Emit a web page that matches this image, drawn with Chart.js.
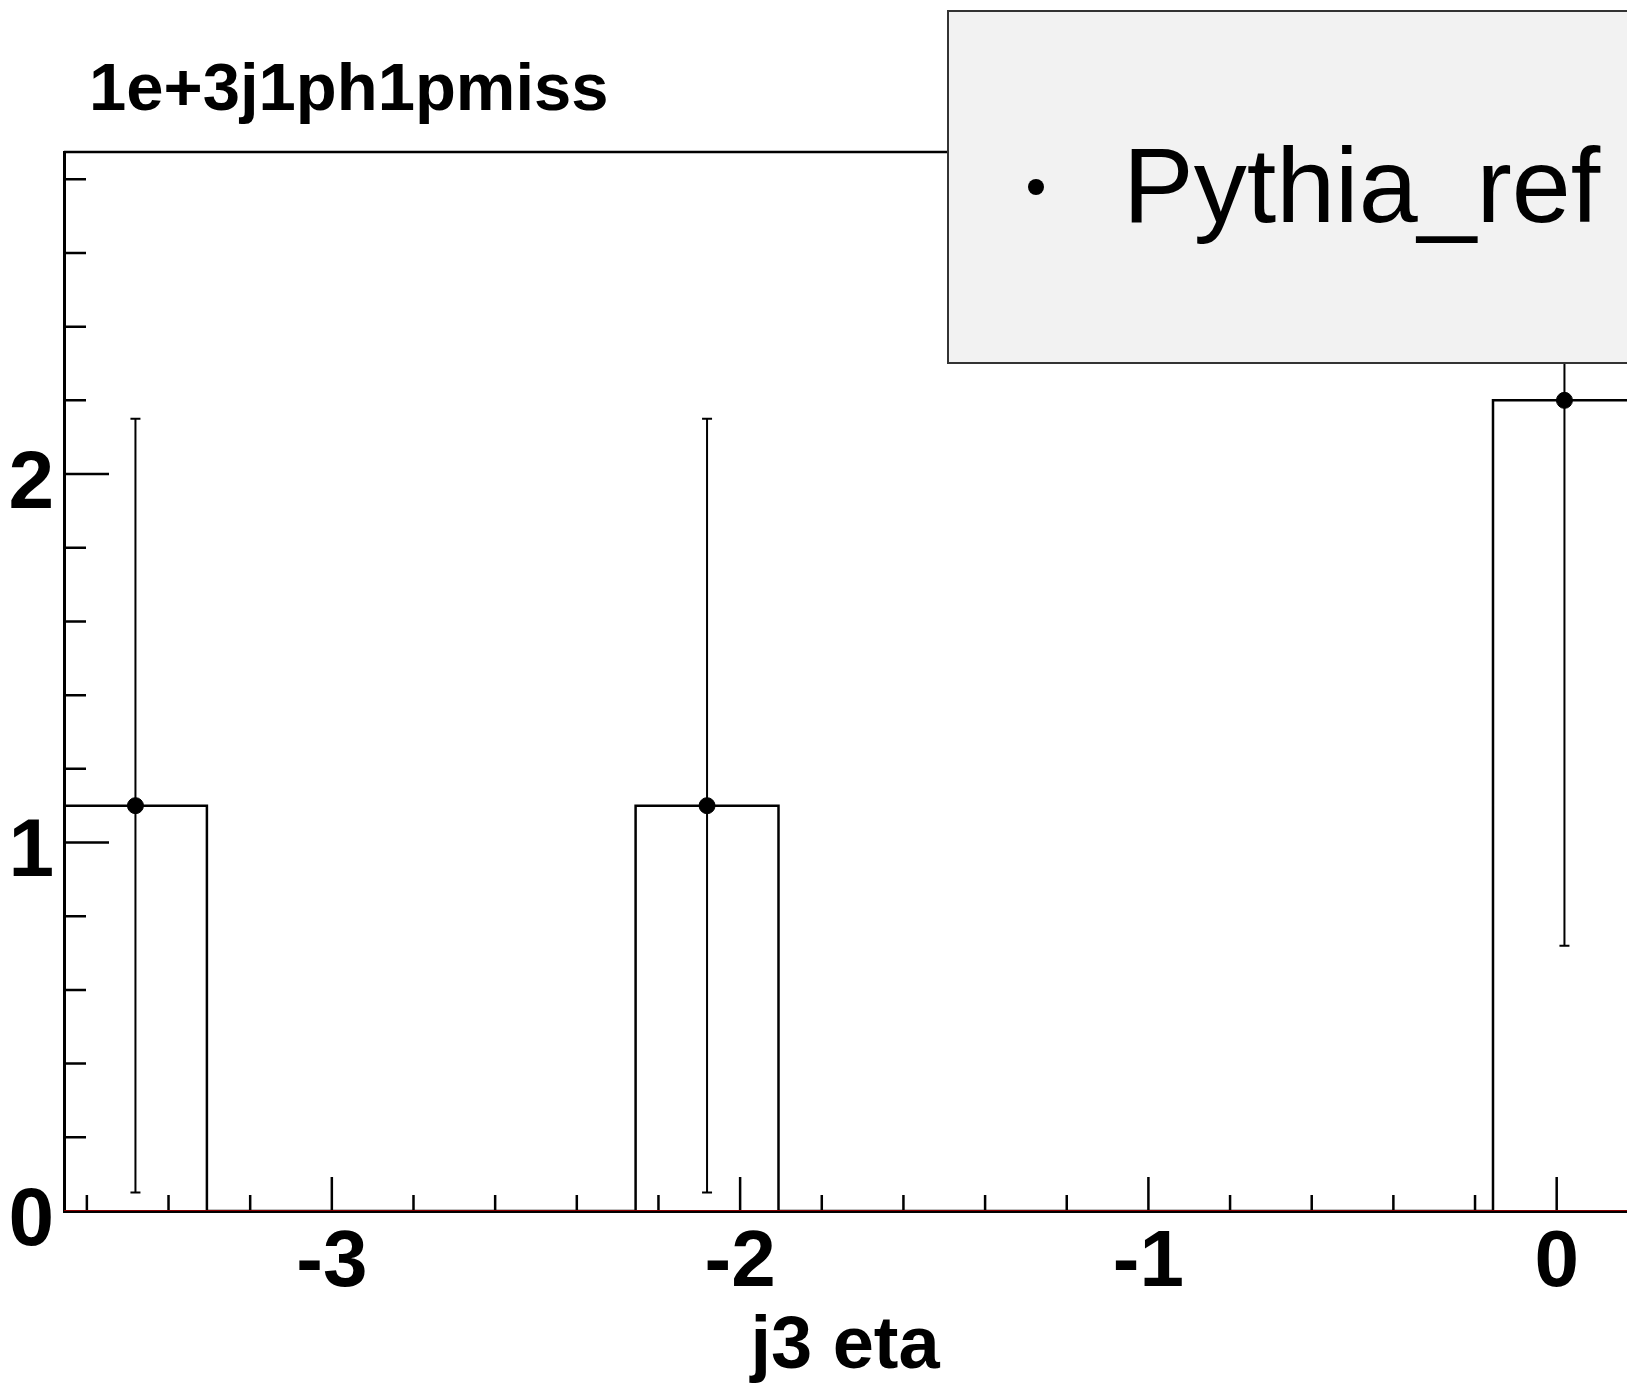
<!DOCTYPE html>
<html>
<head>
<meta charset="utf-8">
<script src="https://cdn.jsdelivr.net/npm/chart.js@4.4.0/dist/chart.umd.min.js"></script>
<style>
  html, body { margin: 0; padding: 0; background: #fff; overflow: hidden; }
  #wrap { width: 1720px; height: 1393px; }
</style>
</head>
<body>
<div id="wrap"><canvas id="histChart" width="1720" height="1393"></canvas></div>
<script>
// histogram data (j3 eta, visible part only)
const binEdges = [-3.656, -3.306, -2.956, -2.606, -2.256, -1.906, -1.556, -1.206, -0.856, -0.506, -0.156, 0.194];
const counts = [1.1, 0, 0, 0, 1.1, 0, 0, 0, 0, 0, 2.2];
const errors = [1.05, 0, 0, 0, 1.05, 0, 0, 0, 0, 0, 1.48];
const xTicks = [-3, -2, -1, 0];
const yTicks = [0, 1, 2];
const xRange = [-3.656, 0.351];
const yRange = [0, 2.874];

const FONT = '"Liberation Sans", Arial, sans-serif';

// step outline: start on the axis, one point per left edge, close at last right edge
const histPoints = [{ x: binEdges[0], y: 0 }];
counts.forEach((c, i) => histPoints.push({ x: binEdges[i], y: c }));
histPoints.push({ x: binEdges[binEdges.length - 1], y: 0 });

// markers at bin centres, only for filled bins
const markers = [];
counts.forEach((c, i) => {
  if (c > 0) markers.push({ x: (binEdges[i] + binEdges[i + 1]) / 2, y: c, err: errors[i] });
});

// inward ticks, error bars, frame, titles, legend box
const rootDecor = {
  id: 'rootDecor',
  beforeDatasetsDraw(chart) {
    const ctx = chart.ctx, xs = chart.scales.x, ys = chart.scales.y, a = chart.chartArea;
    ctx.save();
    ctx.strokeStyle = '#000';
    ctx.lineWidth = 2.5;
    ctx.beginPath();
    for (let v = -3.6; v < xRange[1]; v += 0.2) {
      const px = xs.getPixelForValue(v);
      const major = Math.abs(v - Math.round(v)) < 1e-6;
      ctx.moveTo(px, a.bottom);
      ctx.lineTo(px, a.bottom - (major ? 34 : 16));
    }
    for (let v = 0.2; v < yRange[1]; v += 0.2) {
      const py = ys.getPixelForValue(v);
      const major = Math.abs(v - Math.round(v)) < 1e-6;
      ctx.moveTo(a.left, py);
      ctx.lineTo(a.left + (major ? 45 : 22), py);
    }
    ctx.stroke();
    // top frame line
    ctx.lineWidth = 2.5;
    ctx.beginPath();
    ctx.moveTo(a.left, a.top);
    ctx.lineTo(a.right, a.top);
    ctx.stroke();
    ctx.restore();
  },
  afterDatasetsDraw(chart) {
    const ctx = chart.ctx, xs = chart.scales.x, ys = chart.scales.y, a = chart.chartArea;
    ctx.save();
    ctx.beginPath();
    ctx.rect(a.left, a.top, a.right - a.left, a.bottom - a.top);
    ctx.clip();
    ctx.strokeStyle = '#000';
    ctx.lineWidth = 2;
    markers.forEach(m => {
      const px = xs.getPixelForValue(m.x);
      const yHi = ys.getPixelForValue(m.y + m.err);
      const yLo = ys.getPixelForValue(m.y - m.err);
      ctx.beginPath();
      ctx.moveTo(px, yHi);
      ctx.lineTo(px, yLo);
      ctx.moveTo(px - 5, yHi);
      ctx.lineTo(px + 5, yHi);
      ctx.moveTo(px - 5, yLo);
      ctx.lineTo(px + 5, yLo);
      ctx.stroke();
    });
    ctx.restore();
  },
  afterDraw(chart) {
    const ctx = chart.ctx;
    ctx.save();
    ctx.fillStyle = '#000';
    ctx.textAlign = 'left';
    ctx.textBaseline = 'alphabetic';
    ctx.font = 'bold 67px ' + FONT;
    ctx.fillText('1e+3j1ph1pmiss', 89, 110);
    ctx.textAlign = 'center';
    ctx.font = 'bold 74px ' + FONT;
    ctx.fillText('j3 eta', 845, 1368);
    // legend box
    ctx.fillStyle = '#f2f2f2';
    ctx.fillRect(948, 11, 800, 352);
    ctx.strokeStyle = '#333';
    ctx.lineWidth = 2;
    ctx.strokeRect(948, 11, 800, 352);
    ctx.fillStyle = '#000';
    ctx.beginPath();
    ctx.arc(1036, 187, 8, 0, Math.PI * 2);
    ctx.fill();
    ctx.textAlign = 'left';
    ctx.font = '106px ' + FONT;
    ctx.fillText('Pythia_ref', 1123, 222);
    ctx.restore();
  }
};

const ctx = document.getElementById('histChart').getContext('2d');
const histChart = new Chart(ctx, {
  type: 'line',
  data: {
    datasets: [
      {
        label: 'zero line',
        data: [{ x: xRange[0], y: 0 }, { x: xRange[1], y: 0 }],
        borderColor: '#8b0000',
        borderWidth: 2,
        pointRadius: 0,
        order: 0
      },
      {
        label: 'Pythia_ref',
        type: 'scatter',
        data: markers,
        backgroundColor: '#000',
        borderColor: '#000',
        pointRadius: 8,
        showLine: false,
        order: 1
      },
      {
        label: 'hist',
        data: histPoints,
        stepped: 'before',
        borderColor: '#000',
        borderWidth: 2.5,
        pointRadius: 0,
        fill: false,
        order: 2
      }
    ]
  },
  options: {
    responsive: false,
    animation: false,
    devicePixelRatio: 1,
    layout: { padding: { top: 152, right: 20, left: 0, bottom: 0 } },
    plugins: { legend: { display: false }, title: { display: false }, tooltip: { enabled: false } },
    scales: {
      x: {
        type: 'linear',
        min: xRange[0],
        max: xRange[1],
        afterBuildTicks: s => { s.ticks = xTicks.map(v => ({ value: v })); },
        afterFit: s => { s.height = 182; },
        grid: { display: false, drawTicks: false },
        border: { display: true, color: '#000', width: 3 },
        ticks: {
          color: '#000',
          padding: 5,
          maxRotation: 0,
          font: { family: FONT, size: 80, weight: 'bold' }
        }
      },
      y: {
        type: 'linear',
        min: yRange[0],
        max: yRange[1],
        afterBuildTicks: s => { s.ticks = yTicks.map(v => ({ value: v })); },
        afterFit: s => { s.width = 64; },
        grid: { display: false, drawTicks: false },
        border: { display: true, color: '#000', width: 3 },
        ticks: {
          color: '#000',
          padding: 10,
          labelOffset: 11,
          font: { family: FONT, size: 82, weight: 'bold' }
        }
      }
    }
  },
  plugins: [rootDecor]
});
</script>
</body>
</html>
